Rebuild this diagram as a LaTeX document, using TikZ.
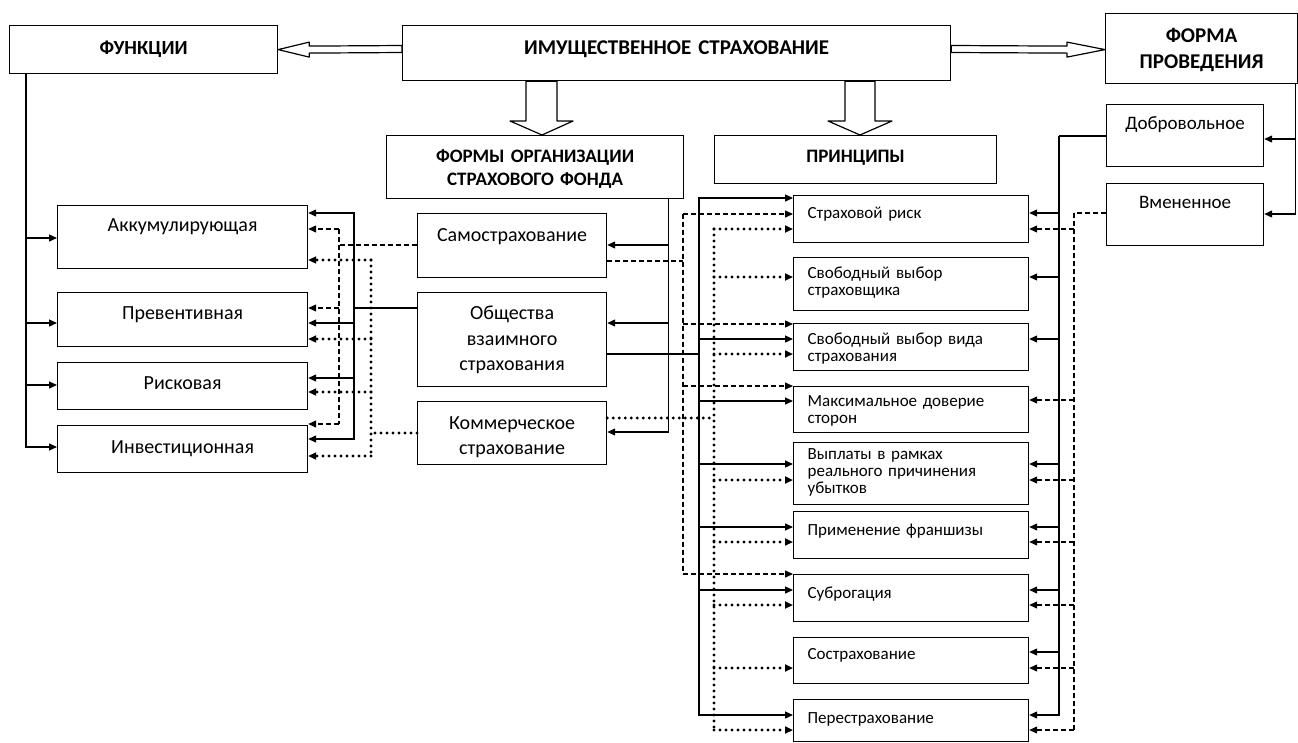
\documentclass[tikz,border=0pt]{standalone}
\usepackage{fontspec}
\setmainfont{Carlito}
\usepackage{tikz}
\usetikzlibrary{arrows.meta, positioning, calc}
\tikzset{
    headbox/.style={rectangle, draw=black, inner sep=0pt, anchor=north west, align=center, font=\fontsize{19}{23}\selectfont\bfseries},
    funcbox/.style={rectangle, draw=black, inner sep=0pt, anchor=north west, align=center, text width=250pt, font=\fontsize{20}{25.5}\selectfont},
    formbox/.style={rectangle, draw=black, inner sep=0pt, anchor=north west, align=center, text width=189pt, font=\fontsize{20}{25}\selectfont},
    princbox/.style={rectangle, draw=black, inner ysep=0pt, inner xsep=14pt, anchor=north west, align=left, text width=207pt, font=\fontsize{17}{17}\selectfont},
    kindbox/.style={rectangle, draw=black, inner sep=0pt, anchor=north west, align=center, text width=157pt, font=\fontsize{19}{23}\selectfont},
    tb/.style 2 args={text height=#1pt, text depth=#2pt},
    arrow/.style={->,>={Triangle[length=8pt,width=7pt]}},
    dashline/.style={dash pattern=on 5pt off 3pt},
    dotline/.style={line width=3.4pt, line cap=round, dash pattern=on 0pt off 6pt},
    hollow/.style={draw=black, fill=white, line join=round}
}
\begin{document}
\begin{tikzpicture}[x=1pt, y=-1pt, line width=1.2pt]
    \useasboundingbox (0,0) rectangle (1298,742);

    % Headings
    \node (fun) [headbox, text width=268pt, tb={29}{19}, font=\fontsize{20}{23}\selectfont\bfseries] at (9,25) {ФУНКЦИИ};
    \node (main) [headbox, text width=548pt, tb={29}{26}, font=\fontsize{21}{23}\selectfont\bfseries] at (402,25) {ИМУЩЕСТВЕННОЕ СТРАХОВАНИЕ};
    \node (forma) [headbox, text width=192pt, tb={29}{41}, font=\fontsize{21}{26}\selectfont\bfseries] at (1105,13) {ФОРМА\\ПРОВЕДЕНИЯ};
    \node (fonds) [headbox, text width=297pt, tb={27}{36}] at (386,135) {ФОРМЫ ОРГАНИЗАЦИИ\\СТРАХОВОГО ФОНДА};
    \node (princ) [headbox, text width=282pt, tb={27}{21}] at (714,135) {ПРИНЦИПЫ};

    % Functions
    \node (akk) [funcbox, tb={26}{37}] at (57,205) {Аккумулирующая};
    \node (prev) [funcbox, tb={27}{27}] at (57,292) {Превентивная};
    \node (risk) [funcbox, tb={27}{20}] at (57,362) {Рисковая};
    \node (inv) [funcbox, tb={28}{19}] at (57,425) {Инвестиционная};

    % Forms of the fund
    \node (samo) [formbox, tb={28}{36}] at (417,213) {Самострахование};
    \node (obsch) [formbox, tb={27}{67}, font=\fontsize{20}{25.5}\selectfont] at (417,292) {Общества\\взаимного\\страхования};
    \node (komm) [formbox, tb={28}{35}] at (417,401) {Коммерческое\\страхование};

    % Principles
    \node (p1) [princbox, tb={23}{24}] at (793,195) {Страховой риск};
    \node (p2) [princbox, tb={21}{32}] at (793,257) {Свободный выбор\\страховщика};
    \node (p3) [princbox, tb={21}{26}] at (793,323) {Свободный выбор вида\\страхования};
    \node (p4) [princbox, tb={20}{26}] at (793,386) {Максимальное доверие\\сторон};
    \node (p5) [princbox, tb={17}{45}] at (793,442) {Выплаты в рамках\\реального причинения\\убытков};
    \node (p6) [princbox, tb={24}{23}] at (793,511) {Применение франшизы};
    \node (p7) [princbox, tb={24}{23}] at (793,574) {Суброгация};
    \node (p8) [princbox, tb={22}{24}] at (793,637) {Сострахование};
    \node (p9) [princbox, tb={24}{18}] at (793,699) {Перестрахование};

    % Kinds
    \node (dobr) [kindbox, tb={25}{37}] at (1106,104) {Добровольное};
    \node (vmen) [kindbox, tb={25}{37}] at (1106,183) {Вмененное};

    % Hollow arrows
    \draw[hollow] (fun.east) -- ++(31,-7.5) -- ++(0,4) -- (main.west |- 0,45.5) -- (main.west |- 0,52.5) -- ($(fun.east)+(31,3.5)$) -- ++(0,4) -- cycle;
    \draw[hollow] (forma.west |- fun.east) -- ++(-38,-7.5) -- ++(0,4) -- (main.east |- 0,45.5) -- (main.east |- 0,52.5) -- ($(forma.west |- fun.east)+(-38,3.5)$) -- ++(0,4) -- cycle;
    \draw[hollow] (542,0 |- fonds.north) -- (510,121) -- (526,121) -- (526,0 |- main.south) -- (557,0 |- main.south) -- (557,121) -- (573,121) -- cycle;
    \draw[hollow] (860,0 |- princ.north) -- (828,121) -- (845,121) -- (845,0 |- main.south) -- (875,0 |- main.south) -- (875,121) -- (892,121) -- cycle;

    % Functions bus
    \coordinate (fbus) at ($(fun.south west)+(17,0)$);
    \draw[arrow] (fbus) |- (akk.west |- 0,238);
    \draw[arrow] (fbus) |- (prev.west |- 0,323);
    \draw[arrow] (fbus) |- (risk.west |- 0,385);
    \draw[arrow] (fbus) |- (inv.west |- 0,447);

    % Forms to functions
    \coordinate (jo) at (354,308);
    \draw (obsch.west |- jo) -- (jo);
    \draw[arrow] (jo) |- (akk.east |- 0,213);
    \draw[arrow] (jo) |- (prev.east |- 0,323);
    \draw[arrow] (jo) |- (risk.east |- 0,378);
    \draw[arrow] (jo) |- (inv.east |- 0,439);

    \coordinate (js) at (339,245);
    \draw[dashline] (samo.west |- js) -- (js);
    \draw[dashline] (js |- 0,229) -- (js |- 0,424);
    \draw[dashline, arrow] (js |- 0,229) -- (akk.east |- 0,229);
    \draw[dashline, arrow] (js |- 0,308) -- (prev.east |- 0,308);
    \draw[dashline, arrow] (js |- 0,424) -- (inv.east |- 0,424);

    \coordinate (jk) at (371,433);
    \draw[dotline] (komm.west |- jk) -- (jk);
    \draw[dotline] (jk |- 0,260) -- (jk |- 0,456);
    \draw[dotline, arrow] (jk |- 0,260) -- (akk.east |- 0,260);
    \draw[dotline, arrow] (jk |- 0,339) -- (prev.east |- 0,339);
    \draw[dotline, arrow] (jk |- 0,392) -- (risk.east |- 0,392);
    \draw[dotline, arrow] (jk |- 0,456) -- (inv.east |- 0,456);

    % Fund to forms
    \coordinate (jf) at ($(fonds.south east)+(-16,0)$);
    \draw[arrow] (jf) |- (samo.east |- 0,245);
    \draw[arrow] (jf) |- (obsch.east |- 0,323);
    \draw[arrow] (jf) |- (komm.east |- 0,432);

    % Forms to principles
    \coordinate (jp) at (699,354);
    \draw (obsch.east |- jp) -- (jp);
    \draw[arrow] (jp) |- (p1.west |- 0,198);
    \draw[arrow] (jp) |- (p3.west |- 0,339);
    \draw[arrow] (jp) |- (p4.west |- 0,401);
    \draw[arrow] (jp) |- (p5.west |- 0,464);
    \draw[arrow] (jp) |- (p6.west |- 0,527);
    \draw[arrow] (jp) |- (p7.west |- 0,590);
    \draw[arrow] (jp) |- (p9.west |- 0,715);

    \coordinate (jsp) at (683,261);
    \draw[dashline] (samo.east |- jsp) -- (jsp);
    \draw[dashline] (jsp |- 0,214) -- (jsp |- 0,574);
    \draw[dashline, arrow] (jsp |- 0,214) -- (p1.west |- 0,214);
    \draw[dashline, arrow] (jsp |- 0,324) -- (p3.west |- 0,324);
    \draw[dashline, arrow] (jsp |- 0,386) -- (p4.west |- 0,386);
    \draw[dashline, arrow] (jsp |- 0,574) -- (p7.west |- 0,574);

    \coordinate (jkp) at (714,418);
    \draw[dotline] (komm.east |- jkp) -- (jkp);
    \draw[dotline] (jkp |- 0,229) -- (jkp |- 0,730);
    \draw[dotline, arrow] (jkp |- 0,229) -- (p1.west |- 0,229);
    \draw[dotline, arrow] (jkp |- 0,277) -- (p2.west |- 0,277);
    \draw[dotline, arrow] (jkp |- 0,354) -- (p3.west |- 0,354);
    \draw[dotline, arrow] (jkp |- 0,480) -- (p5.west |- 0,480);
    \draw[dotline, arrow] (jkp |- 0,542) -- (p6.west |- 0,542);
    \draw[dotline, arrow] (jkp |- 0,605) -- (p7.west |- 0,605);
    \draw[dotline, arrow] (jkp |- 0,668) -- (p8.west |- 0,668);
    \draw[dotline, arrow] (jkp |- 0,730) -- (p9.west |- 0,730);

    % Kinds
    \coordinate (jfp) at ($(forma.south east)+(-3,0)$);
    \draw[arrow] (jfp) |- (dobr.east |- 0,139);
    \draw[arrow] (jfp) |- (vmen.east |- 0,214);

    \coordinate (jd) at (1059,136);
    \draw (dobr.west |- jd) -- (jd);
    \draw[arrow] (jd) |- (p1.east |- 0,213);
    \draw[arrow] (jd) |- (p2.east |- 0,277);
    \draw[arrow] (jd) |- (p3.east |- 0,339);
    \draw[arrow] (jd) |- (p5.east |- 0,464);
    \draw[arrow] (jd) |- (p6.east |- 0,527);
    \draw[arrow] (jd) |- (p7.east |- 0,590);
    \draw[arrow] (jd) |- (p8.east |- 0,652);
    \draw[arrow] (jd) |- (p9.east |- 0,715);

    \coordinate (jv) at (1074,213);
    \draw[dashline] (vmen.west |- jv) -- (jv);
    \draw[dashline] (jv) -- (jv |- 0,730);
    \draw[dashline, arrow] (jv |- 0,229) -- (p1.east |- 0,229);
    \draw[dashline, arrow] (jv |- 0,400) -- (p4.east |- 0,400);
    \draw[dashline, arrow] (jv |- 0,480) -- (p5.east |- 0,480);
    \draw[dashline, arrow] (jv |- 0,542) -- (p6.east |- 0,542);
    \draw[dashline, arrow] (jv |- 0,605) -- (p7.east |- 0,605);
    \draw[dashline, arrow] (jv |- 0,668) -- (p8.east |- 0,668);
    \draw[dashline, arrow] (jv |- 0,730) -- (p9.east |- 0,730);
\end{tikzpicture}
\end{document}
